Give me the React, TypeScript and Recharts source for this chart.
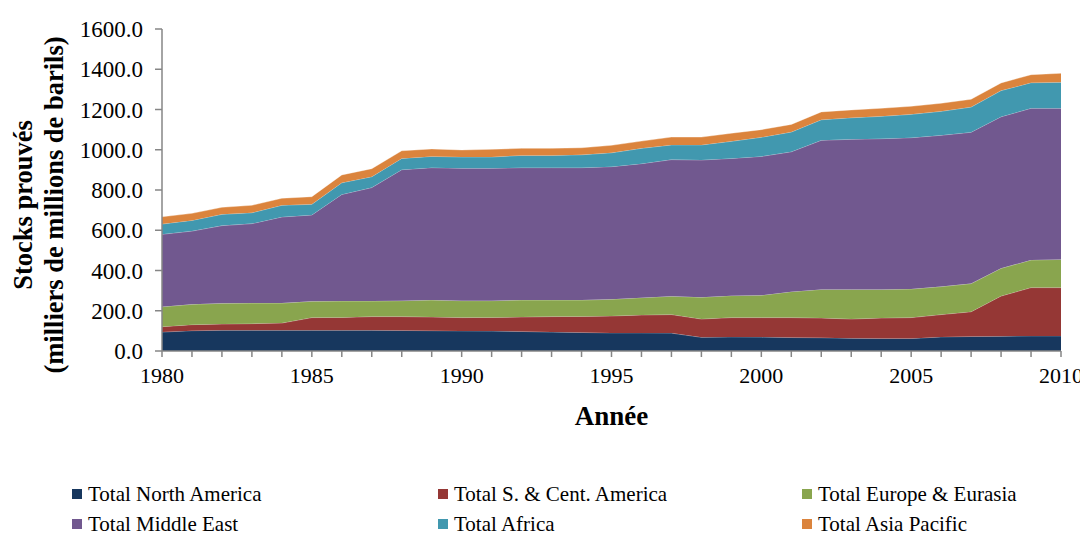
import React from "react";
import { AreaChart, Area, XAxis, YAxis, Label } from "recharts";

const years = [1980,1981,1982,1983,1984,1985,1986,1987,1988,1989,1990,1991,1992,1993,1994,1995,1996,1997,1998,1999,2000,2001,2002,2003,2004,2005,2006,2007,2008,2009,2010];

const northAmerica = [94,101,103,103,103,103,103,103,102,101,100,99,97,94,92,90,90,89,68,70,69,67,66,63,62,62,70,72,73,75,75];
const southCentAmerica = [27,30,31,33,36,63,64,68,69,68,66,68,72,77,80,84,89,92,91,96,97,99,98,96,102,104,111,123,200,240,240];
const europeEurasia = [99,101,103,102,99,81,81,77,79,84,84,83,84,82,81,83,86,91,108,109,111,129,142,147,142,142,139,140,138,137,140];
const middleEast = [360,364,386,395,428,429,530,564,651,658,658,658,658,658,658,659,666,679,682,682,690,695,741,746,749,752,752,752,753,754,751];
const africa = [51,53,56,54,58,53,58,54,56,56,56,56,61,61,64,69,76,73,75,85,95,98,102,107,111,116,119,125,130,127,129];
const asiaPacific = [36,35,35,37,35,38,39,40,38,37,35,38,35,35,35,37,36,39,39,40,38,38,39,39,40,40,40,39,38,40,45];

const seriesNames = ["Total North America","Total S. & Cent. America","Total Europe & Eurasia","Total Middle East","Total Africa","Total Asia Pacific"];
const seriesKeys = ["na","sca","eur","me","afr","ap"];
const seriesColors = ["#17375E","#953735","#89A54E","#71588F","#4198AF","#DB843D"];
const seriesValues = [northAmerica, southCentAmerica, europeEurasia, middleEast, africa, asiaPacific];

const yTicks = [0,200,400,600,800,1000,1200,1400,1600];

const data = years.map((year, i) => {
  const row: Record<string, number> = { year };
  seriesKeys.forEach((k, s) => { row[k] = seriesValues[s][i]; });
  return row;
});

const FONT = "'Liberation Serif', 'Times New Roman', serif";

const YLabel = (props: any) => {
  const vb = props.viewBox || {};
  const cy = vb.y + vb.height / 2 + 15;
  return (
    <g>
      <text x={15} y={cy} transform={`rotate(-90, 15, ${cy})`} textAnchor="middle" dominantBaseline="central"
        style={{ fontFamily: FONT }} fontWeight="bold" fontSize={26.5} fill="#000">Stocks prouvés</text>
      <text x={46} y={cy} transform={`rotate(-90, 46, ${cy})`} textAnchor="middle" dominantBaseline="central"
        style={{ fontFamily: FONT }} fontWeight="bold" fontSize={26.5} fill="#000">(milliers de millions de barils)</text>
    </g>
  );
};

const XLabel = (props: any) => {
  const vb = props.viewBox || {};
  const cx = vb.x + vb.width / 2;
  return (
    <text x={cx} y={408} textAnchor="middle" dominantBaseline="central" style={{ fontFamily: FONT }}
      fontWeight="bold" fontSize={27} fill="#000">Année</text>
  );
};

const XTick = (props: any) => {
  const { x, y, payload } = props;
  const v = payload.value as number;
  if (v % 5 !== 0) return <g />;
  return (
    <text x={x} y={y} dy="0.71em" textAnchor="middle" style={{ fontFamily: FONT }} fontSize={22} fill="#000">
      {String(v)}
    </text>
  );
};

const YTick = (props: any) => {
  const { x, y, payload } = props;
  const v = payload.value as number;
  return (
    <text x={x} y={y} dy="0.355em" textAnchor="end" style={{ fontFamily: FONT }} fontSize={23} fill="#000">
      {v.toFixed(1)}
    </text>
  );
};

const legendCols = [64, 430, 794];
const legendRows = [486, 516];

export default function App() {
  return (
    <div style={{ position: "relative", width: 1072, height: 524, fontFamily: FONT }}>
      <style>{`.recharts-surface{overflow:visible}`}</style>
      <AreaChart width={1072} height={430} data={data} margin={{ top: 21, right: 19, left: 0, bottom: 0 }}
        style={{ fontFamily: FONT }}>
        <XAxis
          dataKey="year"
          type="number"
          domain={[1980, 2010]}
          ticks={years}
          interval={0}
          height={87}
          tickSize={6}
          tickMargin={10}
          stroke="#868686"
          tick={XTick}
          axisLine={{ stroke: "#868686", strokeWidth: 1.5 }}
          tickLine={{ stroke: "#868686", strokeWidth: 1.5 }}
        >
          <Label content={XLabel} />
        </XAxis>
        <YAxis
          type="number"
          domain={[0, 1600]}
          ticks={yTicks}
          interval={0}
          width={154}
          tickSize={7}
          tickMargin={12}
          stroke="#868686"
          tick={YTick}
          axisLine={{ stroke: "#868686", strokeWidth: 1.5 }}
          tickLine={{ stroke: "#868686", strokeWidth: 1.5 }}
        >
          <Label content={YLabel} />
        </YAxis>
        {seriesKeys.map((k, i) => (
          <Area
            key={k}
            type="linear"
            dataKey={k}
            name={seriesNames[i]}
            stackId="1"
            fill={seriesColors[i]}
            fillOpacity={1}
            stroke="#ffffff"
            strokeOpacity={0.35}
            strokeWidth={1}
            isAnimationActive={false}
          />
        ))}
      </AreaChart>
      {seriesNames.map((name, i) => (
        <div
          key={name}
          style={{
            position: "absolute",
            left: legendCols[i % 3],
            top: legendRows[Math.floor(i / 3)] - 9,
            height: 18,
            lineHeight: "18px",
            display: "flex",
            alignItems: "center",
            fontSize: 21,
            color: "#000",
            whiteSpace: "nowrap",
          }}
        >
          <span style={{ display: "inline-block", width: 10, height: 10, background: seriesColors[i], marginRight: 6 }} />
          {name}
        </div>
      ))}
    </div>
  );
}
